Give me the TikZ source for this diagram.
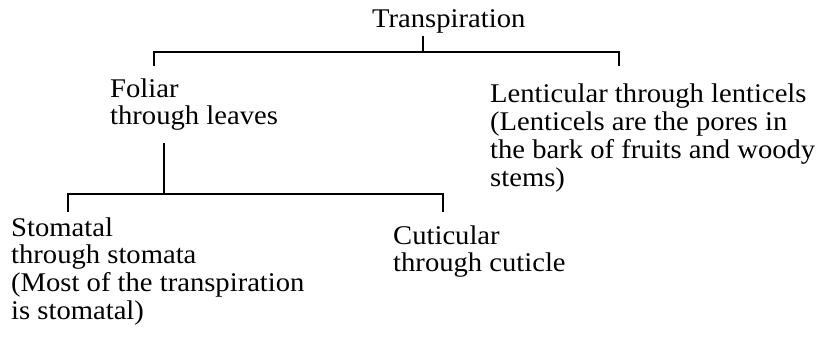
\documentclass[tikz,border=0pt]{standalone}
\usepackage{fontspec}
\setmainfont[FakeStretch=1.06]{Liberation Serif}
\begin{document}
\begin{tikzpicture}[x=1pt,y=-1pt,
  lbl/.style={anchor=base west,inner sep=0pt,font=\fontsize{27}{27.8}\selectfont,align=left},
  br/.style={line width=1.8pt}]
\useasboundingbox (0,0) rectangle (822,342);
% anchor=base west puts the LAST line's baseline at the given point
\node[lbl] (tr) at (372,28) {Transpiration};
\node[lbl] (fo) at (110,125) {Foliar\\through leaves};
\node[lbl] (le) at (490,186) {Lenticular through lenticels\\(Lenticels are the pores in\\the bark of fruits and woody\\stems)};
\node[lbl] (st) at (11,319.4) {Stomatal\\through stomata\\(Most of the transpiration\\is stomatal)};
\node[lbl] (cu) at (393,271.8) {Cuticular\\through cuticle};
\coordinate (j1) at (423,52);
\coordinate (j2) at (164,194);
\draw[br] (tr.south -| j1) ++(0,2) -- (j1);
\draw[br] (154,66) -- (154,52) -- (619,52) -- (619,66);
\draw[br] (j2 |- fo.south) ++(0,12) -- (j2);
\draw[br] (68,212) -- (68,194) -- (443,194) -- (443,212);
\end{tikzpicture}
\end{document}
